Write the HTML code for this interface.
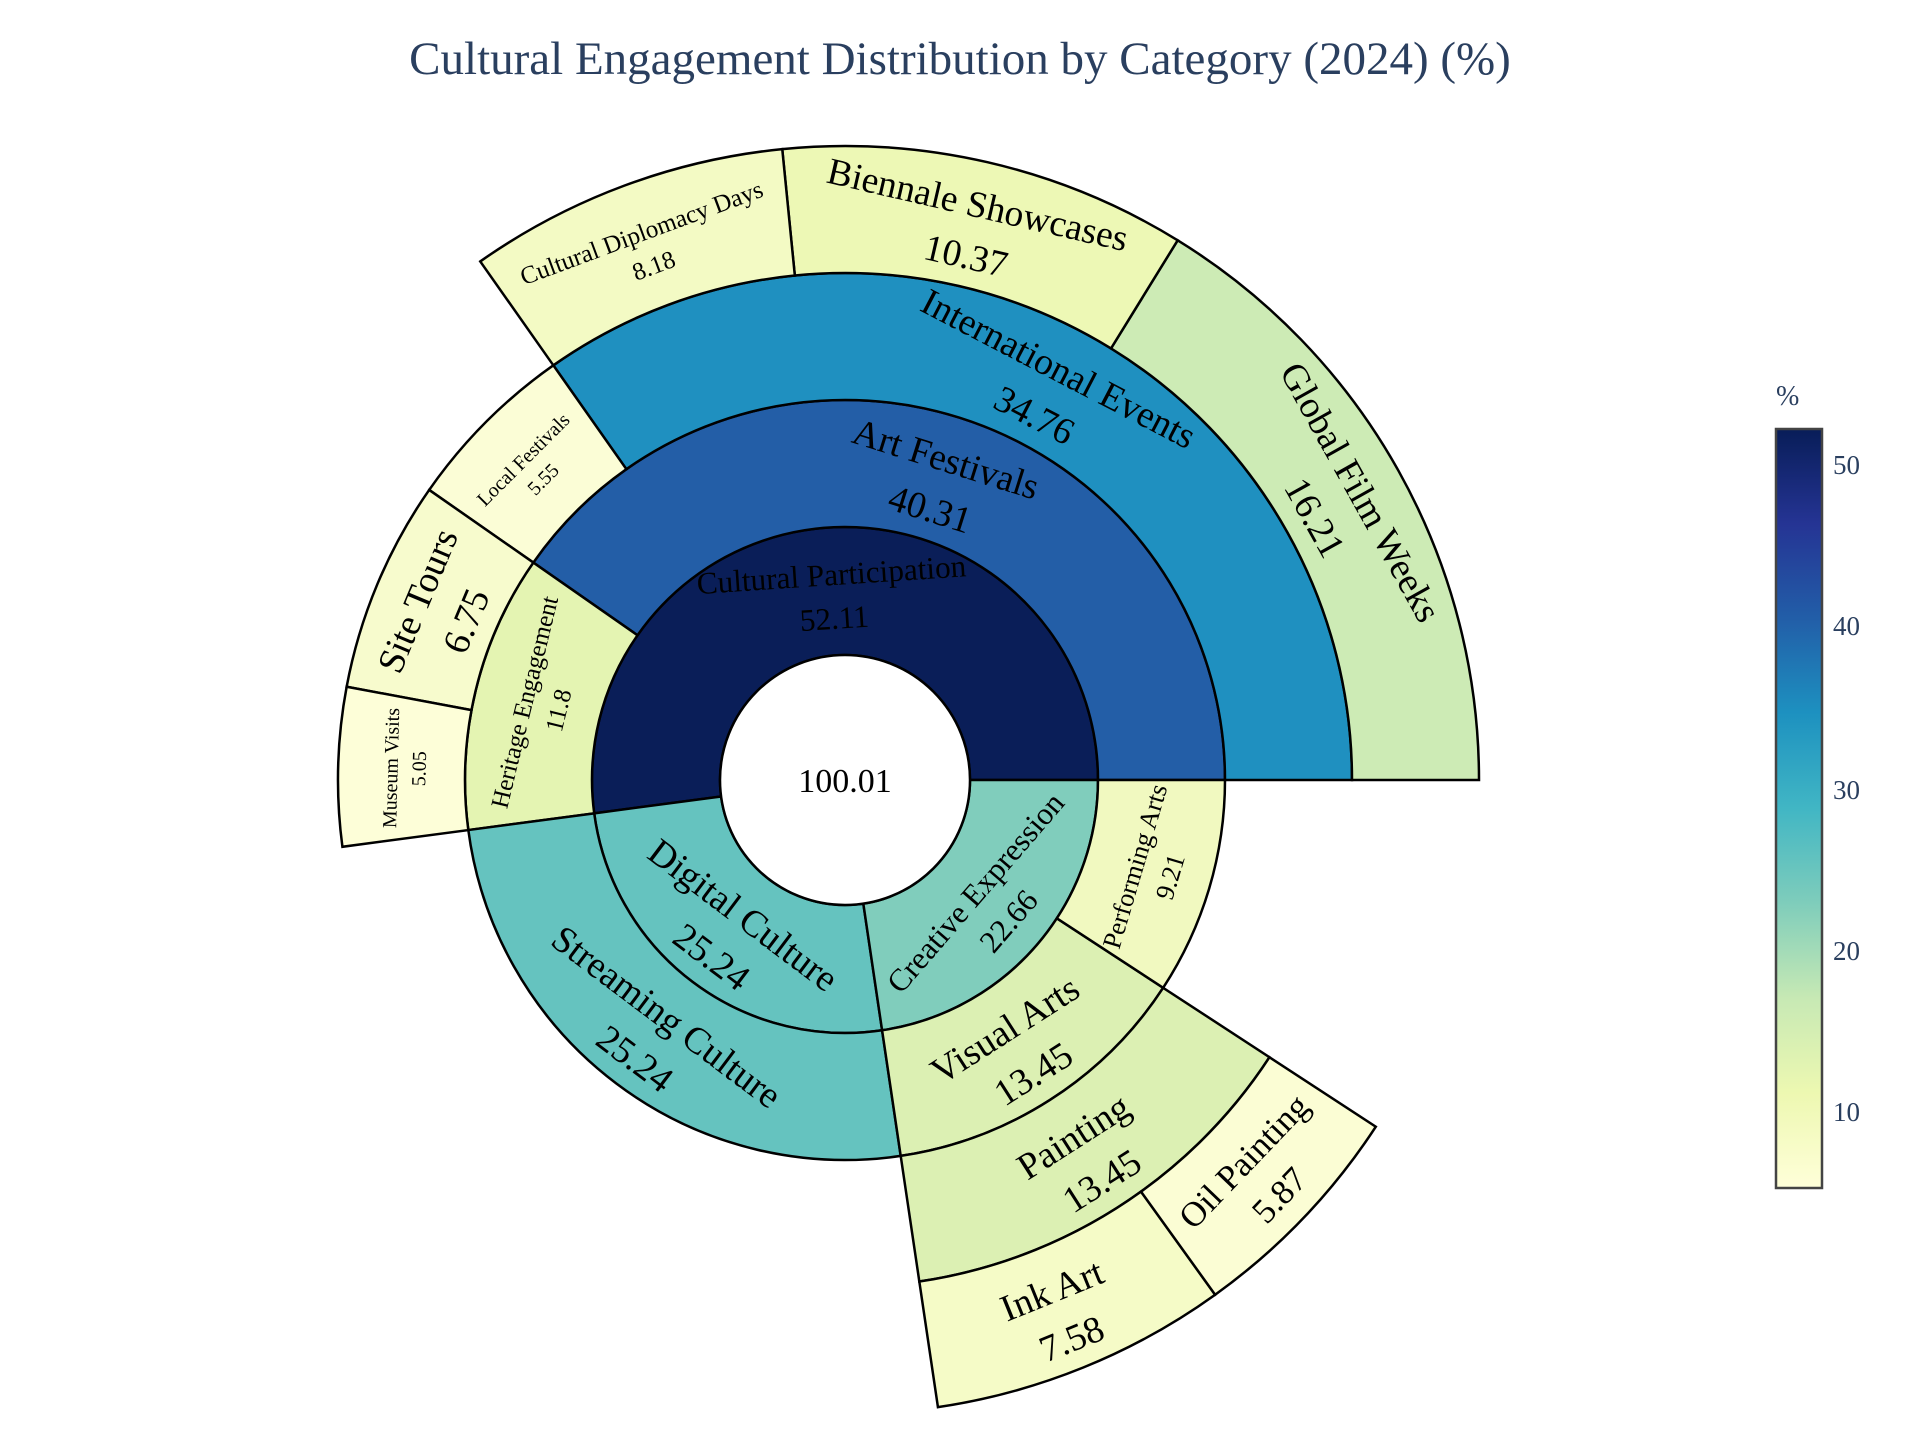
<!DOCTYPE html>
<html><head><meta charset="utf-8"><style>
html,body{margin:0;padding:0;background:#fff;}
svg{display:block;font-family:"Liberation Serif",serif;}
</style></head><body>
<svg id="s" width="1920" height="1440" viewBox="0 0 1920 1440" xmlns="http://www.w3.org/2000/svg">
<defs><linearGradient id="cb" x1="0" y1="1" x2="0" y2="0">
<stop offset="0" stop-color="#ffffd9"/><stop offset="0.125" stop-color="#edf8b1"/><stop offset="0.25" stop-color="#c7e9b4"/><stop offset="0.375" stop-color="#7fcdbb"/><stop offset="0.5" stop-color="#41b6c4"/><stop offset="0.625" stop-color="#1d91c0"/><stop offset="0.75" stop-color="#225ea8"/><stop offset="0.875" stop-color="#253494"/><stop offset="1" stop-color="#081d58"/>
</linearGradient></defs>
<text x="960" y="74" text-anchor="middle" font-size="47" fill="#2a3f5f">Cultural Engagement Distribution by Category (2024) (%)</text>
<g id="segs"></g>
<circle cx="845" cy="780" r="125" fill="#fff" stroke="#000" stroke-width="2.5"/>
<text x="845" y="792" text-anchor="middle" font-size="34" fill="#000">100.01</text>
<g id="labels" fill="#000" text-anchor="middle">
<text class="l"><tspan>Cultural Participation</tspan><tspan>52.11</tspan></text>
<text class="l"><tspan>Digital Culture</tspan><tspan>25.24</tspan></text>
<text class="l"><tspan>Creative Expression</tspan><tspan>22.66</tspan></text>
<text class="l"><tspan>Art Festivals</tspan><tspan>40.31</tspan></text>
<text class="l"><tspan>Heritage Engagement</tspan><tspan>11.8</tspan></text>
<text class="l"><tspan>Streaming Culture</tspan><tspan>25.24</tspan></text>
<text class="l"><tspan>Visual Arts</tspan><tspan>13.45</tspan></text>
<text class="l"><tspan>Performing Arts</tspan><tspan>9.21</tspan></text>
<text class="l"><tspan>International Events</tspan><tspan>34.76</tspan></text>
<text class="l"><tspan>Local Festivals</tspan><tspan>5.55</tspan></text>
<text class="l"><tspan>Site Tours</tspan><tspan>6.75</tspan></text>
<text class="l"><tspan>Museum Visits</tspan><tspan>5.05</tspan></text>
<text class="l"><tspan>Painting</tspan><tspan>13.45</tspan></text>
<text class="l"><tspan>Global Film Weeks</tspan><tspan>16.21</tspan></text>
<text class="l"><tspan>Biennale Showcases</tspan><tspan>10.37</tspan></text>
<text class="l"><tspan>Cultural Diplomacy Days</tspan><tspan>8.18</tspan></text>
<text class="l"><tspan>Ink Art</tspan><tspan>7.58</tspan></text>
<text class="l"><tspan>Oil Painting</tspan><tspan>5.87</tspan></text>
</g>
<rect x="1776" y="429" width="46" height="759" fill="url(#cb)" stroke="#444" stroke-width="2.5"/>
<g font-size="27" fill="#2a3f5f">
<text x="1776" y="405" font-size="28">%</text>
<text x="1833" y="474">50</text>
<text x="1833" y="635">40</text>
<text x="1833" y="799">30</text>
<text x="1833" y="960">20</text>
<text x="1833" y="1121">10</text>
</g>
</svg>
<script>
var cx=845,cy=780,R=[125,253,380,507,634];
var segs=[
[1,0,187.57,"#0a1e58",25],[1,187.57,278.43,"#65c3bf",30],[1,278.43,360,"#80cdbc",25],
[2,0,145.10,"#235ea7",30],[2,145.10,187.57,"#e4f4b2",20],[2,187.57,278.43,"#65c3bf",30],[2,278.43,326.85,"#dcf0b3",30],[2,326.85,360,"#f1f9c0",21],
[3,0,125.12,"#1f90c0",30],[3,125.12,145.10,"#fbfdd6",16],[3,145.10,169.40,"#f7fbcd",30],[3,169.40,187.57,"#fdfed8",16],[3,278.43,326.85,"#dcf0b3",30],
[4,0,58.35,"#cdebb5",30],[4,58.35,95.68,"#edf8b5",30],[4,95.68,125.12,"#f3fac4",20],[4,278.43,305.72,"#f5fbc7",30],[4,305.72,326.85,"#fbfdd4",28]];
function P(r,a){a=a*Math.PI/180;return [cx+r*Math.cos(a),cy-r*Math.sin(a)];}
var g=document.getElementById("segs"),ns="http://www.w3.org/2000/svg",labs=document.querySelectorAll("#labels text");
segs.forEach(function(s,i){
 var r0=R[s[0]-1],r1=R[s[0]],a0=s[1],a1=s[2],lg=(a1-a0)>180?1:0;
 var p1=P(r0,a0),p2=P(r1,a0),p3=P(r1,a1),p4=P(r0,a1);
 var d="M"+p1+"L"+p2+"A"+r1+","+r1+" 0 "+lg+" 0 "+p3+"L"+p4+"A"+r0+","+r0+" 0 "+lg+" 1 "+p1+"Z";
 var p=document.createElementNS(ns,"path");p.setAttribute("d",d);p.setAttribute("fill",s[3]);p.setAttribute("stroke","#000");p.setAttribute("stroke-width","2.5");g.appendChild(p);
 var m=(a0+a1)/2,rm=(r0+r1)/2,c=P(rm,m),rot=90-m;
 while(rot>90)rot-=180;while(rot<=-90)rot+=180;
 var t=labs[i],fs=s[4]*1.25;t.setAttribute("font-size",fs);
 t.setAttribute("transform","translate("+c[0]+","+c[1]+") rotate("+rot+")");
 var ts=t.querySelectorAll("tspan");
 ts[0].setAttribute("x",0);ts[0].setAttribute("y",-0.2*fs);
 ts[1].setAttribute("x",0);ts[1].setAttribute("y",1.2*fs);
});
</script>
</body></html>
